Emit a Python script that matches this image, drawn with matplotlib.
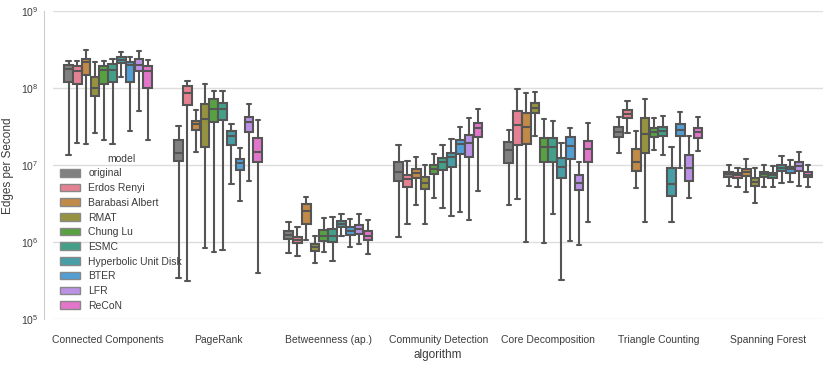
import numpy as np
import matplotlib
matplotlib.use("Agg")
import matplotlib.pyplot as plt
from matplotlib.patches import Patch
import seaborn as sns

algorithms = ["Connected Components", "PageRank", "Betweenness (ap.)",
              "Community Detection", "Core Decomposition", "Triangle Counting",
              "Spanning Forest"]
models = ["original", "Erdos Renyi", "Barabasi Albert", "RMAT", "Chung Lu",
          "ESMC", "Hyperbolic Unit Disk", "BTER", "LFR", "ReCoN"]

# box statistics, one row per algorithm, one column per model
whislo = [
    [1.35e7, 1.93e7, 1.89e7, 2.65e7, 2.13e7, 1.87e7, 1.41e8, 2.81e7, 5.12e7, 2.15e7],
    [3.47e5, 3.17e5, 1.49e7, 8.51e5, 7.48e5, 7.94e5, 5.66e6, 3.47e6, 6.25e6, 4.03e5],
    [7.26e5, 6.58e5, 1.07e6, 5.33e5, 7.48e5, 5.66e5, 1.21e6, 8.77e5, 9.51e5, 7.05e5],
    [1.17e6, 1.73e6, 3.08e6, 1.71e6, 3.76e6, 2.79e6, 2.20e6, 2.50e6, 1.95e6, 4.68e6],
    [3.05e6, 3.65e6, 1.01e6, 2.40e7, 9.71e5, 2.33e6, 3.21e5, 1.04e6, 9.23e5, 1.84e6],
    [1.43e7, 2.65e7, 5.12e6, 1.84e6, 1.58e7, 1.35e7, 1.84e6, 9.31e6, 3.73e6, 1.55e7],
    [5.43e6, 5.27e6, 4.50e6, 3.27e6, 5.27e6, 5.18e6, 5.89e6, 6.12e6, 5.43e6, 5.27e6],
]
q1 = [
    [1.21e8, 1.13e8, 1.49e8, 8.0e7, 1.15e8, 1.21e8, 2.11e8, 1.21e8, 1.66e8, 1.02e8],
    [1.14e7, 6.01e7, 2.90e7, 1.71e7, 3.68e7, 3.84e7, 1.85e7, 8.68e6, 2.73e7, 1.11e7],
    [1.10e6, 9.71e5, 1.73e6, 7.71e5, 1.05e6, 1.0e6, 1.57e6, 1.24e6, 1.27e6, 1.06e6],
    [6.25e6, 5.23e6, 6.84e6, 4.97e6, 7.71e6, 8.77e6, 9.42e6, 1.42e7, 1.29e7, 2.35e7],
    [1.08e7, 1.84e7, 1.87e7, 4.73e7, 1.10e7, 1.10e7, 6.90e6, 1.21e7, 4.78e6, 1.10e7],
    [2.35e7, 4.15e7, 8.51e6, 1.46e7, 2.35e7, 2.42e7, 3.95e6, 2.40e7, 6.31e6, 2.28e7],
    [7.11e6, 6.78e6, 7.26e6, 5.38e6, 7.11e6, 6.90e6, 8.36e6, 8.02e6, 8.51e6, 6.98e6],
]
med = [
    [1.77e8, 1.69e8, 2.22e8, 1.02e8, 1.73e8, 1.75e8, 2.33e8, 1.99e8, 2.01e8, 1.68e8],
    [1.46e7, 8.61e7, 3.41e7, 3.99e7, 5.38e7, 5.43e7, 2.42e7, 1.08e7, 3.62e7, 1.49e7],
    [1.24e6, 1.07e6, 2.57e6, 8.61e5, 1.22e6, 1.21e6, 1.73e6, 1.39e6, 1.48e6, 1.22e6],
    [8.18e6, 6.58e6, 8.02e6, 5.89e6, 8.95e6, 1.09e7, 1.29e7, 1.89e7, 1.93e7, 3.05e7],
    [1.58e7, 3.30e7, 3.17e7, 5.50e7, 1.75e7, 1.75e7, 9.59e6, 1.78e7, 5.94e6, 1.64e7],
    [2.73e7, 4.68e7, 1.10e7, 2.55e7, 2.70e7, 2.81e7, 5.66e6, 2.87e7, 9.31e6, 2.68e7],
    [7.71e6, 7.41e6, 8.11e6, 6.12e6, 7.64e6, 7.41e6, 9.23e6, 8.95e6, 9.79e6, 7.55e6],
]
q3 = [
    [2.01e8, 1.97e8, 2.42e8, 1.39e8, 1.97e8, 2.07e8, 2.55e8, 2.22e8, 2.38e8, 1.97e8],
    [2.11e7, 1.07e8, 3.79e7, 6.25e7, 7.19e7, 6.50e7, 2.79e7, 1.22e7, 4.20e7, 2.24e7],
    [1.39e6, 1.18e6, 3.14e6, 9.51e5, 1.43e6, 1.48e6, 1.89e6, 1.57e6, 1.69e6, 1.40e6],
    [1.10e7, 7.55e6, 9.04e6, 6.98e6, 1.0e7, 1.23e7, 1.45e7, 2.13e7, 2.50e7, 3.54e7],
    [1.99e7, 5.02e7, 4.73e7, 6.44e7, 2.24e7, 2.28e7, 1.23e7, 2.33e7, 7.41e6, 2.08e7],
    [3.12e7, 5.22e7, 1.63e7, 4.15e7, 3.08e7, 3.17e7, 9.31e6, 3.41e7, 1.35e7, 3.08e7],
    [8.26e6, 7.87e6, 8.95e6, 6.78e6, 8.18e6, 8.02e6, 1.02e7, 9.59e6, 1.10e7, 8.18e6],
]
whishi = [
    [2.28e8, 2.28e8, 3.12e8, 2.20e8, 2.24e8, 2.38e8, 2.94e8, 2.53e8, 3.05e8, 2.33e8],
    [3.27e7, 1.26e8, 5.18e7, 1.13e8, 9.22e7, 9.22e7, 3.41e7, 1.69e7, 6.31e7, 3.87e7],
    [1.84e6, 1.57e6, 3.87e6, 1.21e6, 2.05e6, 2.15e6, 2.33e6, 2.02e6, 2.33e6, 1.95e6],
    [1.85e7, 1.15e7, 1.28e7, 1.01e7, 1.40e7, 1.82e7, 2.18e7, 3.14e7, 4.11e7, 5.38e7],
    [2.87e7, 9.79e7, 8.69e7, 8.95e7, 3.99e7, 3.79e7, 1.93e7, 3.05e7, 1.11e7, 3.54e7],
    [4.28e7, 6.84e7, 2.81e7, 7.19e7, 4.15e7, 4.37e7, 1.75e7, 4.88e7, 2.40e7, 4.24e7],
    [1.01e7, 9.31e6, 1.22e7, 9.31e6, 1.0e7, 9.79e6, 1.31e7, 1.17e7, 1.49e7, 1.0e7],
]

sns.set_style("whitegrid")
plt.rcParams["font.family"] = ["Liberation Sans", "DejaVu Sans"]
plt.rcParams["font.size"] = 7.5

palette = [sns.desaturate("gray", 0.75)] + [sns.desaturate(c, 0.75) for c in sns.husl_palette(9)]
edge = "#555555"
txt = "#3c3c3c"

fig = plt.figure(figsize=(8.3, 3.67), dpi=100)
ax = fig.add_axes([0.064, 0.13, 0.928, 0.839])

n = len(models)
slot = 0.8 / n
for i, alg in enumerate(algorithms):
    for j, m in enumerate(models):
        st = dict(whislo=whislo[i][j], q1=q1[i][j], med=med[i][j],
                  q3=q3[i][j], whishi=whishi[i][j], fliers=[])
        ax.bxp([st], positions=[i + (j - (n - 1) / 2) * slot],
               widths=slot * 0.98, patch_artist=True, showfliers=False,
               boxprops=dict(facecolor=palette[j], edgecolor=edge, linewidth=1.5),
               whiskerprops=dict(color=edge, linewidth=1.5, solid_capstyle="butt"),
               capprops=dict(color=edge, linewidth=1.5),
               medianprops=dict(color=edge, linewidth=1.5))

ax.set_yscale("log")
ax.set_ylim(1e5, 1e9)
ax.set_xlim(-0.5, len(algorithms) - 0.5)
ax.set_xticks(range(len(algorithms)))
ax.set_xticklabels(algorithms)
ax.xaxis.grid(False)
ax.yaxis.grid(True, color="#dddddd", linewidth=1)
ax.yaxis.set_minor_locator(matplotlib.ticker.NullLocator())
ax.tick_params(axis="both", length=0, colors=txt, labelsize=7.5)
ax.tick_params(axis="x", pad=11.5)
ax.tick_params(axis="y", pad=4)
for s in ["top", "right", "bottom"]:
    ax.spines[s].set_visible(False)
ax.spines["left"].set_position(("outward", 6.5))
ax.spines["left"].set_color("#cccccc")
ax.set_xlabel("algorithm", fontsize=8.5, color=txt, labelpad=3)
ax.set_ylabel("Edges per Second", fontsize=8.5, color=txt, labelpad=5)

handles = [Patch(facecolor=palette[j], edgecolor="#888888", linewidth=1, label=m)
           for j, m in enumerate(models)]
leg = ax.legend(handles=handles, title="model", loc="upper left",
                bbox_to_anchor=(0.004, 0.551), frameon=False, fontsize=7.5,
                title_fontsize=7.5, handlelength=1.9, handleheight=0.75,
                handletextpad=0.8, labelspacing=0.45, borderaxespad=0)
for t in leg.get_texts():
    t.set_color(txt)
leg.get_title().set_color(txt)

fig.savefig("out.png", dpi=100)
